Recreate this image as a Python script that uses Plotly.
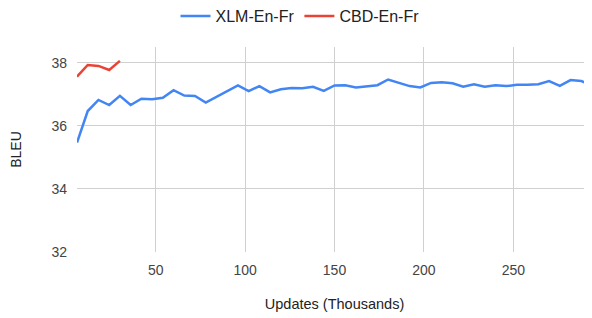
import plotly.graph_objects as go

updates_xlm = [6, 12, 18, 24, 30, 36, 42, 48, 54, 60, 66, 72, 78, 84, 90, 96, 102, 108,
               114, 120, 126, 132, 138, 144, 150, 156, 162, 168, 174, 180, 186, 192, 198,
               204, 210, 216, 222, 228, 234, 240, 246, 252, 258, 264, 270, 276, 282, 288, 294]
bleu_xlm = [35.47, 36.47, 36.82, 36.66, 36.95, 36.66, 36.86, 36.84, 36.89, 37.13, 36.96,
            36.95, 36.74, 36.92, 37.10, 37.28, 37.10, 37.26, 37.06, 37.16, 37.20, 37.19,
            37.24, 37.11, 37.28, 37.29, 37.22, 37.26, 37.29, 37.47, 37.37, 37.26, 37.22,
            37.36, 37.38, 37.35, 37.24, 37.32, 37.24, 37.29, 37.26, 37.30, 37.30, 37.32,
            37.42, 37.27, 37.45, 37.42, 37.29]

updates_cbd = [6, 12, 18, 24, 30]
bleu_cbd = [37.56, 37.93, 37.90, 37.77, 38.06]

x_ticks = [50, 100, 150, 200, 250]
y_ticks = [32, 34, 36, 38]

W, H = 584, 310  # page body has an 8px margin

fig = go.Figure()
fig.add_trace(go.Scatter(x=updates_xlm, y=bleu_xlm, mode="lines", name="XLM-En-Fr",
                         line=dict(color="#4285F4", width=2.5)))
fig.add_trace(go.Scatter(x=updates_cbd, y=bleu_cbd, mode="lines", name="CBD-En-Fr",
                         line=dict(color="#EA4335", width=2.5)))

fig.update_layout(
    width=W, height=H,
    margin=dict(l=69, r=0, t=39, b=66),
    paper_bgcolor="white", plot_bgcolor="white",
    font=dict(family="Liberation Sans, Arial, sans-serif", size=14, color="#444444"),
    legend=dict(orientation="h", x=(300 - 8) / W, xanchor="center", xref="container",
                y=1 - 8 / H, yanchor="middle", yref="container",
                font=dict(size=16, color="#222222"), itemwidth=30),
    showlegend=True,
)
fig.update_xaxes(range=[6, 294], tickvals=x_ticks, showgrid=True, gridcolor="#d0d0d0",
                 gridwidth=1, zeroline=False, showline=False, ticks="",
                 ticklabelstandoff=8,
                 title=dict(text="Updates (Thousands)", standoff=21,
                            font=dict(size=14.5, color="#222222")),
                 automargin=False)
fig.update_yaxes(range=[32, 38.5], tickvals=y_ticks, showgrid=True, gridcolor="#d0d0d0",
                 gridwidth=1, zeroline=False, showline=False, ticks="",
                 ticklabelstandoff=9,
                 title=dict(text="BLEU", standoff=37, font=dict(size=14, color="#222222")),
                 automargin=False)

fig.write_html("out.html")
